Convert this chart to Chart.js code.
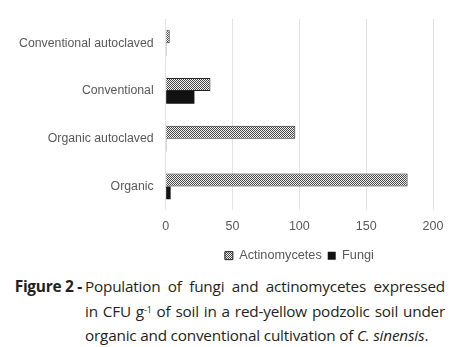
<!DOCTYPE html>
<html>
<head>
<meta charset="utf-8">
<script src="https://cdn.jsdelivr.net/npm/chart.js@4"></script>
<style>
  body { margin: 0; background: #fff; width: 460px; height: 347px; overflow: hidden; position: relative; }
  #wrap { position: absolute; left: 0; top: 0; width: 460px; height: 272px; }
  #caption { position: absolute; left: 0; top: 275px; width: 460px; font-family: 'Open Sans', sans-serif; font-size: 15.3px; line-height: 23.3px; color: #231f20; }
  #caption .lab { position: absolute; left: 0; top: 0; width: 82px; text-align: right; font-weight: bold; font-size: 15.5px; letter-spacing: -0.3px; }
  #caption .txt { position: absolute; left: 85px; top: 0; width: 360px; letter-spacing: -0.2px; }
  #caption .txt div { white-space: nowrap; text-align: justify; text-align-last: justify; }
  #caption .txt div.last { text-align-last: left; }
</style>
</head>
<body>
<div id="wrap"><canvas id="chart"></canvas></div>
<div id="caption">
  <span class="lab">Figure 2 -</span>
  <div class="txt">
    <div>Population of fungi and actinomycetes expressed</div>
    <div>in CFU g<span style="font-size:9px;vertical-align:4px">-1</span> of soil in a red-yellow podzolic soil under</div>
    <div class="last">organic and conventional cultivation of <i>C. sinensis</i>.</div>
  </div>
</div>
<script>
const categories = ['Conventional autoclaved', 'Conventional', 'Organic autoclaved', 'Organic']
const actinomycetes = [3, 33.5, 97, 181]
const fungi = [0.5, 21.5, 0.5, 3.7]
const xTicks = [0, 50, 100, 150, 200]

// small checker pattern for the actinomycetes bars
function checker(){
    var c = document.createElement('canvas')
    c.width = 2; c.height = 2
    var g = c.getContext('2d')
    g.fillStyle = '#f6f6f6'
    g.fillRect(0, 0, 2, 2)
    g.fillStyle = '#444'
    g.fillRect(0, 0, 1, 1)
    g.fillRect(1, 1, 1, 1)
    return g.createPattern(c, 'repeat')
}
const pat = checker()

var ctx = document.getElementById('chart').getContext('2d')

const chart = new Chart(ctx, {
    type: 'bar',
    data: {
        labels: categories,
        datasets: [{
            label: 'Actinomycetes',
            data: actinomycetes,
            backgroundColor: pat,
            borderColor: '#222',
            borderWidth: 1,
        }, {
            label: 'Fungi',
            data: fungi,
            backgroundColor: '#111',
            borderColor: '#111',
            borderWidth: 0,
        }]
    },
    options: {
        indexAxis: 'y',
        animation: false,
        responsive: true,
        maintainAspectRatio: false,
        datasets: {
            bar: { categoryPercentage: 0.54, barPercentage: 1.0 }
        },
        layout: { padding: { top: 12, right: 27, left: 7, bottom: 0 } },
        plugins: {
            legend: {
                position: 'bottom',
                fullSize: false,
                labels: {
                    boxWidth: 8,
                    boxHeight: 8,
                    padding: 6,
                    color: '#595959',
                    font: { family: 'Liberation Sans', size: 12.7 }
                }
            },
            tooltip: { enabled: false }
        },
        scales: {
            x: {
                min: 0,
                max: 200,
                afterBuildTicks: (axis) => { axis.ticks = xTicks.map(v => ({ value: v })) },
                grid: { color: '#c8c8c8', drawTicks: false },
                border: { display: false, dash: [1, 1] },
                ticks: {
                    padding: 9,
                    color: '#595959',
                    font: { family: 'Liberation Sans', size: 12.5 }
                }
            },
            y: {
                grid: { display: false, drawTicks: false },
                border: { display: false },
                ticks: {
                    padding: 12,
                    color: '#595959',
                    font: { family: 'Liberation Sans', size: 12.3 }
                }
            }
        }
    }
});
</script>
</body>
</html>
